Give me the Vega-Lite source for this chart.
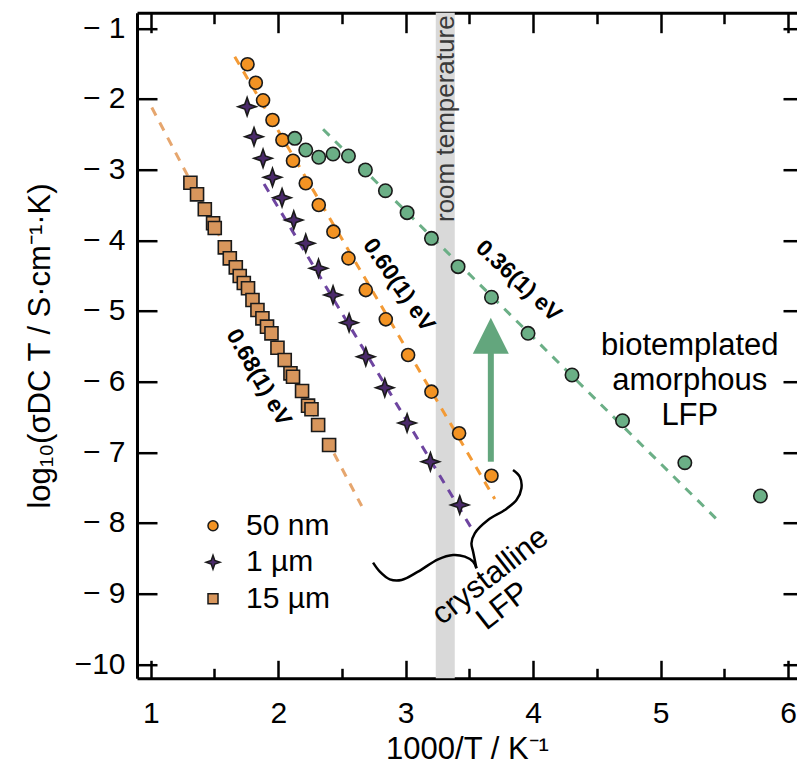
{
  "$schema": "https://vega.github.io/schema/vega-lite/v6.json",
  "width": 660,
  "height": 665.6,
  "autosize": {"type": "none"},
  "padding": {"left": 137, "top": 12.7, "right": 0, "bottom": 87.7},
  "background": "white",
  "config": {
    "view": {"stroke": null},
    "font": "Liberation Sans",
    "axis": {
      "grid": false,
      "domainColor": "black",
      "domainWidth": 3,
      "tickColor": "black",
      "tickWidth": 2.5,
      "labelFont": "Liberation Sans",
      "labelFontSize": 30,
      "labelColor": "black",
      "titleFont": "Liberation Sans",
      "titleFontSize": 31,
      "titleFontWeight": "normal",
      "titleColor": "black"
    }
  },
  "datasets": {
    "band": [{"x": 3.236, "x2": 3.385, "y": -10.198, "y2": -0.779}],
    "fits": [
      {"series": "50 nm", "x": 1.659, "y": -1.402},
      {"series": "50 nm", "x": 3.699, "y": -7.661},
      {"series": "1 µm", "x": 1.889, "y": -3.203},
      {"series": "1 µm", "x": 3.521, "y": -8.089},
      {"series": "15 µm", "x": 1.008, "y": -2.121},
      {"series": "15 µm", "x": 2.655, "y": -7.76},
      {"series": "amorphous", "x": 2.352, "y": -2.429},
      {"series": "amorphous", "x": 5.433, "y": -7.934}
    ],
    "points": [
      {"series": "50 nm", "x": 1.759, "y": -1.509},
      {"series": "50 nm", "x": 1.824, "y": -1.77},
      {"series": "50 nm", "x": 1.881, "y": -2.019},
      {"series": "50 nm", "x": 1.955, "y": -2.298},
      {"series": "50 nm", "x": 2.033, "y": -2.581},
      {"series": "50 nm", "x": 2.116, "y": -2.874},
      {"series": "50 nm", "x": 2.216, "y": -3.193},
      {"series": "50 nm", "x": 2.318, "y": -3.5},
      {"series": "50 nm", "x": 2.433, "y": -3.878},
      {"series": "50 nm", "x": 2.551, "y": -4.255},
      {"series": "50 nm", "x": 2.687, "y": -4.704},
      {"series": "50 nm", "x": 2.844, "y": -5.118},
      {"series": "50 nm", "x": 3.019, "y": -5.623},
      {"series": "50 nm", "x": 3.202, "y": -6.142},
      {"series": "50 nm", "x": 3.419, "y": -6.73},
      {"series": "50 nm", "x": 3.673, "y": -7.331},
      {"series": "1 µm", "x": 1.756, "y": -2.109},
      {"series": "1 µm", "x": 1.81, "y": -2.534},
      {"series": "1 µm", "x": 1.881, "y": -2.84},
      {"series": "1 µm", "x": 1.955, "y": -3.109},
      {"series": "1 µm", "x": 2.03, "y": -3.397},
      {"series": "1 µm", "x": 2.122, "y": -3.713},
      {"series": "1 µm", "x": 2.216, "y": -4.042},
      {"series": "1 µm", "x": 2.316, "y": -4.396},
      {"series": "1 µm", "x": 2.43, "y": -4.774},
      {"series": "1 µm", "x": 2.556, "y": -5.166},
      {"series": "1 µm", "x": 2.687, "y": -5.647},
      {"series": "1 µm", "x": 2.836, "y": -6.086},
      {"series": "1 µm", "x": 3.011, "y": -6.585},
      {"series": "1 µm", "x": 3.194, "y": -7.133},
      {"series": "1 µm", "x": 3.424, "y": -7.745},
      {"series": "15 µm", "x": 1.311, "y": -3.185},
      {"series": "15 µm", "x": 1.363, "y": -3.349},
      {"series": "15 µm", "x": 1.424, "y": -3.561},
      {"series": "15 µm", "x": 1.489, "y": -3.759},
      {"series": "15 µm", "x": 1.502, "y": -3.826},
      {"series": "15 µm", "x": 1.581, "y": -4.099},
      {"series": "15 µm", "x": 1.62, "y": -4.255},
      {"series": "15 µm", "x": 1.667, "y": -4.382},
      {"series": "15 µm", "x": 1.698, "y": -4.505},
      {"series": "15 µm", "x": 1.73, "y": -4.604},
      {"series": "15 µm", "x": 1.763, "y": -4.679},
      {"series": "15 µm", "x": 1.798, "y": -4.845},
      {"series": "15 µm", "x": 1.837, "y": -4.986},
      {"series": "15 µm", "x": 1.876, "y": -5.104},
      {"series": "15 µm", "x": 1.912, "y": -5.222},
      {"series": "15 µm", "x": 1.947, "y": -5.316},
      {"series": "15 µm", "x": 1.994, "y": -5.52},
      {"series": "15 µm", "x": 2.051, "y": -5.694},
      {"series": "15 µm", "x": 2.096, "y": -5.882},
      {"series": "15 µm", "x": 2.116, "y": -5.93},
      {"series": "15 µm", "x": 2.187, "y": -6.132},
      {"series": "15 µm", "x": 2.234, "y": -6.34},
      {"series": "15 µm", "x": 2.261, "y": -6.391},
      {"series": "15 µm", "x": 2.313, "y": -6.613},
      {"series": "15 µm", "x": 2.399, "y": -6.896}
    ],
    "green": [
      {"x": 2.13, "y": -2.557},
      {"x": 2.216, "y": -2.722},
      {"x": 2.318, "y": -2.825},
      {"x": 2.43, "y": -2.779},
      {"x": 2.551, "y": -2.807},
      {"x": 2.684, "y": -3.005},
      {"x": 2.841, "y": -3.298},
      {"x": 3.011, "y": -3.609},
      {"x": 3.202, "y": -3.972},
      {"x": 3.411, "y": -4.373},
      {"x": 3.673, "y": -4.806},
      {"x": 3.96, "y": -5.316},
      {"x": 4.305, "y": -5.906},
      {"x": 4.701, "y": -6.553},
      {"x": 5.19, "y": -7.147},
      {"x": 5.783, "y": -7.618}
    ],
    "brace": [
      {"part": "left", "order": 1, "x": 2.744, "y": -8.562},
      {"part": "left", "order": 2, "x": 2.797, "y": -8.689},
      {"part": "left", "order": 3, "x": 2.875, "y": -8.797},
      {"part": "left", "order": 4, "x": 2.967, "y": -8.807},
      {"part": "left", "order": 5, "x": 3.097, "y": -8.689},
      {"part": "left", "order": 6, "x": 3.254, "y": -8.514},
      {"part": "left", "order": 7, "x": 3.372, "y": -8.453},
      {"part": "left", "order": 8, "x": 3.464, "y": -8.477},
      {"part": "left", "order": 9, "x": 3.529, "y": -8.548},
      {"part": "left", "order": 10, "x": 3.555, "y": -8.641},
      {"part": "right", "order": 1, "x": 3.555, "y": -8.641},
      {"part": "right", "order": 2, "x": 3.529, "y": -8.406},
      {"part": "right", "order": 3, "x": 3.516, "y": -8.287},
      {"part": "right", "order": 4, "x": 3.542, "y": -8.146},
      {"part": "right", "order": 5, "x": 3.646, "y": -7.958},
      {"part": "right", "order": 6, "x": 3.777, "y": -7.816},
      {"part": "right", "order": 7, "x": 3.869, "y": -7.675},
      {"part": "right", "order": 8, "x": 3.908, "y": -7.509},
      {"part": "right", "order": 9, "x": 3.895, "y": -7.345},
      {"part": "right", "order": 10, "x": 3.842, "y": -7.25}
    ],
    "arrow": [{"x": 3.668, "y": -7.133, "y2": -5.45, "tip": -5.351}],
    "bold": [
      {"text": "0.68(1) eV", "x": 1.847, "y": -5.941, "angle": 60},
      {"text": "0.60(1) eV", "x": 2.945, "y": -4.632, "angle": 55},
      {"text": "0.36(1) eV", "x": 3.885, "y": -4.575, "angle": 43}
    ],
    "notes": [
      {"text": "biotemplated", "x": 5.229, "y": -5.492, "angle": 0},
      {"text": "amorphous", "x": 5.229, "y": -5.987, "angle": 0},
      {"text": "LFP", "x": 5.229, "y": -6.482, "angle": 0},
      {"text": "crystalline", "x": 3.666, "y": -8.754, "angle": 322},
      {"text": "LFP", "x": 3.764, "y": -9.179, "angle": 322}
    ],
    "rt": [{"text": "room temperature", "x": 3.318, "y": -3.741}]
  },
  "layer": [
    {
      "data": {"name": "band"},
      "mark": {"type": "rect", "fill": "#d9d9d9"},
      "encoding": {
        "x": {"field": "x", "type": "quantitative",
          "scale": {"domain": [0.892, 6.07], "nice": false, "zero": false},
          "axis": {"orient": "bottom", "values": [1, 2, 3, 4, 5, 6], "format": "d", "tickSize": -18, "labelPadding": 38, "title": "1000/T / K⁻¹", "titlePadding": 6}},
        "x2": {"field": "x2"},
        "y": {"field": "y", "type": "quantitative",
          "scale": {"domain": [-10.198, -0.779], "nice": false, "zero": false},
          "axis": {"orient": "left", "values": [-10, -9, -8, -7, -6, -5, -4, -3, -2, -1], "tickSize": -20, "labelPadding": 32,
            "labelExpr": "datum.value <= -10 ? '−10' : '− ' + format(-datum.value, 'd')",
            "title": "log₁₀(σDC T / S·cm⁻¹·K)", "titlePadding": 18}},
        "y2": {"field": "y2"}
      }
    },
    {
      "data": {"name": "fits"},
      "mark": {"type": "line", "strokeDash": [9, 8], "strokeWidth": 3},
      "encoding": {
        "x": {"field": "x", "type": "quantitative",
          "scale": {"domain": [0.892, 6.07], "nice": false, "zero": false},
          "axis": {"orient": "bottom", "values": [1.5, 2.5, 3.5, 4.5, 5.5], "tickSize": -10, "labels": false, "domain": false, "title": null}},
        "y": {"field": "y", "type": "quantitative",
          "scale": {"domain": [-10.198, -0.779], "nice": false, "zero": false},
          "axis": {"orient": "right", "values": [-10, -9, -8, -7, -6, -5, -4, -3, -2, -1], "tickSize": -14, "labels": false, "domain": false, "title": null}},
        "stroke": {"field": "series", "type": "nominal",
          "scale": {"domain": ["50 nm", "1 µm", "15 µm", "amorphous"], "range": ["#F39A35", "#6E45A0", "#E6A66E", "#6BAF86"]},
          "legend": null},
        "detail": {"field": "series"}
      }
    },
    {
      "data": {"name": "points"},
      "mark": {"type": "point", "filled": true, "opacity": 1, "stroke": "#1a1a1a", "strokeWidth": 1.6, "size": 170},
      "encoding": {
        "x": {"field": "x", "type": "quantitative",
          "scale": {"domain": [0.892, 6.07], "nice": false, "zero": false},
          "axis": {"orient": "top", "values": [1, 2, 3, 4, 5, 6], "tickSize": -20, "labels": false, "title": null}},
        "y": {"field": "y", "type": "quantitative",
          "scale": {"domain": [-10.198, -0.779], "nice": false, "zero": false}, "axis": null},
        "fill": {"field": "series", "type": "nominal",
          "scale": {"domain": ["50 nm", "1 µm", "15 µm"], "range": ["#F39323", "#4A2A6A", "#D8965C"]},
          "legend": {"orient": "none", "legendX": 61, "legendY": 498, "title": null, "labelFontSize": 30, "labelFont": "Liberation Sans", "labelColor": "black", "symbolSize": 100, "rowPadding": 6.5, "labelOffset": 18, "padding": 0,
            "encode": {"symbols": {"update": {"stroke": {"value": "#1a1a1a"}, "strokeWidth": {"value": 1.5}}}}}},
        "shape": {"field": "series", "type": "nominal",
          "scale": {"domain": ["50 nm", "1 µm", "15 µm"], "range": ["circle", "M 0 -1.4 L 0.36 -0.36 L 1.4 0 L 0.36 0.36 L 0 1.4 L -0.36 0.36 L -1.4 0 L -0.36 -0.36 Z", "square"]},
          "legend": {"orient": "none", "legendX": 61, "legendY": 498, "title": null, "labelFontSize": 30, "labelFont": "Liberation Sans", "labelColor": "black", "symbolSize": 100, "rowPadding": 6.5, "labelOffset": 18, "padding": 0,
            "encode": {"symbols": {"update": {"stroke": {"value": "#1a1a1a"}, "strokeWidth": {"value": 1.5}}}}}}
      }
    },
    {
      "data": {"name": "green"},
      "mark": {"type": "point", "filled": true, "opacity": 1, "fill": "#6BAF86", "stroke": "#1a1a1a", "strokeWidth": 1.6, "size": 180},
      "encoding": {
        "x": {"field": "x", "type": "quantitative",
          "scale": {"domain": [0.892, 6.07], "nice": false, "zero": false},
          "axis": {"orient": "top", "values": [1.5, 2.5, 3.5, 4.5, 5.5], "tickSize": -11, "labels": false, "domain": false, "title": null}},
        "y": {"field": "y", "type": "quantitative",
          "scale": {"domain": [-10.198, -0.779], "nice": false, "zero": false}, "axis": null}
      }
    },
    {
      "data": {"name": "arrow"},
      "mark": {"type": "rule", "stroke": "#63A67D", "strokeWidth": 6},
      "encoding": {
        "x": {"field": "x", "type": "quantitative", "axis": null},
        "y": {"field": "y", "type": "quantitative", "axis": null},
        "y2": {"field": "y2"}
      }
    },
    {
      "data": {"name": "arrow"},
      "mark": {"type": "point", "shape": "M 0 -1 L 1 1 L -1 1 Z", "filled": true, "opacity": 1, "fill": "#63A67D", "strokeWidth": 0, "size": 1296},
      "encoding": {
        "x": {"field": "x", "type": "quantitative", "axis": null},
        "y": {"field": "tip", "type": "quantitative", "axis": null}
      }
    },
    {
      "data": {"name": "brace"},
      "mark": {"type": "line", "stroke": "black", "strokeWidth": 2.5, "interpolate": "catmull-rom"},
      "encoding": {
        "x": {"field": "x", "type": "quantitative", "axis": null},
        "y": {"field": "y", "type": "quantitative", "axis": null},
        "detail": {"field": "part"},
        "order": {"field": "order", "type": "quantitative"}
      }
    },
    {
      "data": {"name": "bold"},
      "mark": {"type": "text", "font": "Liberation Sans", "fontSize": 23, "fontWeight": "bold", "align": "center", "baseline": "middle", "color": "black"},
      "encoding": {
        "x": {"field": "x", "type": "quantitative", "axis": null},
        "y": {"field": "y", "type": "quantitative", "axis": null},
        "text": {"field": "text"},
        "angle": {"field": "angle", "type": "quantitative", "scale": null}
      }
    },
    {
      "data": {"name": "notes"},
      "mark": {"type": "text", "font": "Liberation Sans", "fontSize": 31, "align": "center", "baseline": "middle", "color": "black"},
      "encoding": {
        "x": {"field": "x", "type": "quantitative", "axis": null},
        "y": {"field": "y", "type": "quantitative", "axis": null},
        "text": {"field": "text"},
        "angle": {"field": "angle", "type": "quantitative", "scale": null}
      }
    },
    {
      "data": {"name": "rt"},
      "mark": {"type": "text", "font": "Liberation Sans", "fontSize": 26, "align": "left", "baseline": "middle", "angle": 270, "color": "#3a3a3a"},
      "encoding": {
        "x": {"field": "x", "type": "quantitative", "axis": null},
        "y": {"field": "y", "type": "quantitative", "axis": null},
        "text": {"field": "text"}
      }
    }
  ],
  "resolve": {"axis": {"x": "independent", "y": "independent"}}
}
